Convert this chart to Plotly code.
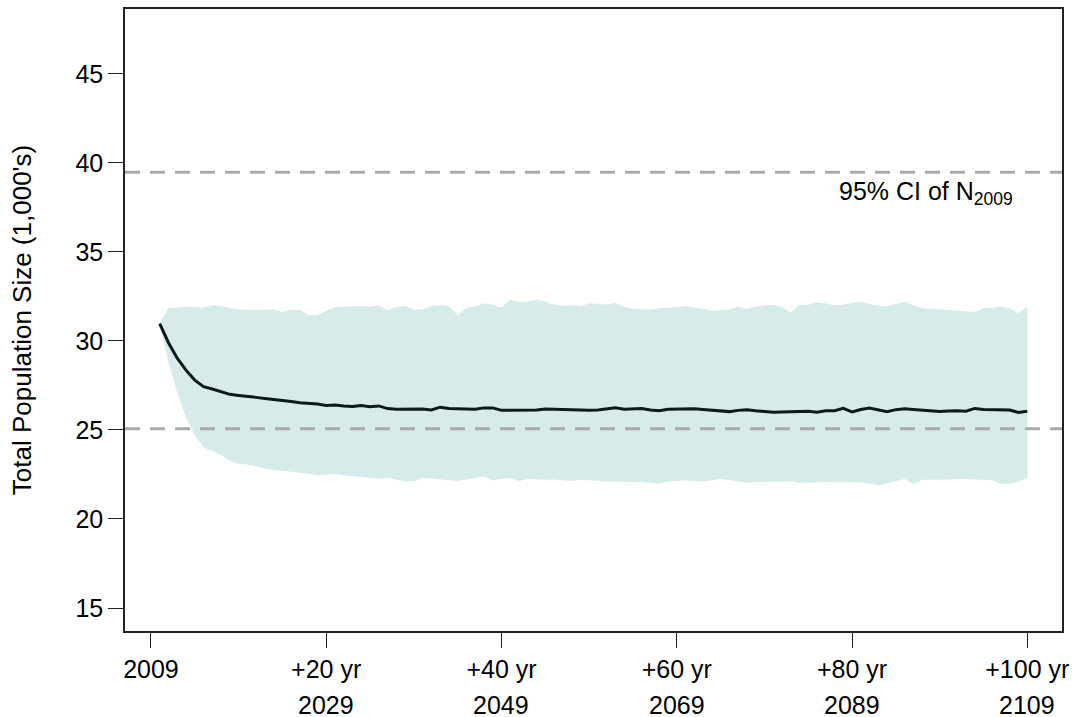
import plotly.graph_objects as go

# projected total population (1,000's), one value per year
years = list(range(2010, 2110))

mean_n = [30.97, 29.9, 29.03, 28.36, 27.8, 27.43, 27.3, 27.16, 27.0, 26.94,
          26.9, 26.83, 26.77, 26.72, 26.68, 26.6, 26.53, 26.51, 26.46, 26.38,
          26.4, 26.35, 26.32, 26.37, 26.3, 26.35, 26.2, 26.16, 26.16, 26.18,
          26.18, 26.12, 26.28, 26.2, 26.2, 26.2, 26.16, 26.24, 26.24, 26.1,
          26.1, 26.12, 26.12, 26.12, 26.18, 26.16, 26.16, 26.16, 26.14, 26.1,
          26.12, 26.16, 26.24, 26.16, 26.18, 26.2, 26.12, 26.08, 26.16, 26.18,
          26.21, 26.19, 26.15, 26.12, 26.05, 26.03, 26.1, 26.14, 26.08, 26.03,
          26.0, 26.01, 26.01, 26.03, 26.05, 26.0, 26.08, 26.08, 26.21, 26.01,
          26.15, 26.23, 26.15, 26.03, 26.14, 26.19, 26.15, 26.12, 26.06, 26.03,
          26.06, 26.08, 26.05, 26.21, 26.15, 26.14, 26.14, 26.12, 25.98, 26.05]

upper_n = [30.97, 31.85, 31.88, 31.92, 31.9, 31.88, 32.0, 31.96, 31.85, 31.77,
           31.75, 31.75, 31.75, 31.77, 31.62, 31.75, 31.74, 31.44, 31.44, 31.7,
           31.9, 31.92, 31.94, 31.96, 31.92, 32.0, 31.72, 31.9, 31.96, 31.75,
           31.77, 31.96, 32.0, 31.96, 31.44, 31.85, 31.92, 32.12, 32.05, 31.86,
           32.33, 32.2, 32.2, 32.33, 32.2, 32.05, 31.96, 32.0, 31.96, 32.1,
           32.09, 32.05, 32.14, 31.92, 31.81, 31.77, 31.77, 31.83, 31.88, 31.88,
           31.96, 31.88, 31.81, 31.68, 31.74, 31.77, 31.92, 31.81, 31.92, 32.0,
           32.03, 31.9, 31.58, 32.03, 32.03, 32.18, 32.1, 32.0, 32.03, 32.14,
           32.2, 32.09, 31.96, 31.96, 32.1, 32.2, 32.0, 31.83, 31.81, 31.77,
           31.74, 31.66, 31.62, 31.62, 31.85, 31.86, 31.92, 31.83, 31.55, 31.92]

lower_n = [30.97, 28.8, 27.1, 25.7, 24.7, 24.03, 23.8, 23.6, 23.25, 23.1,
           23.06, 22.95, 22.82, 22.74, 22.69, 22.65, 22.61, 22.54, 22.45, 22.5,
           22.54, 22.45, 22.39, 22.35, 22.31, 22.26, 22.31, 22.2, 22.1, 22.12,
           22.31, 22.28, 22.24, 22.17, 22.13, 22.2, 22.3, 22.39, 22.17, 22.24,
           22.3, 22.13, 22.24, 22.2, 22.2, 22.22, 22.17, 22.13, 22.2, 22.17,
           22.15, 22.1, 22.1, 22.08, 22.08, 22.08, 22.04, 21.98, 22.1, 22.15,
           22.17, 22.13, 22.1, 22.17, 22.24, 22.19, 22.13, 22.04, 22.08, 22.11,
           22.11, 22.1, 22.1, 22.02, 22.04, 22.06, 22.08, 22.08, 22.08, 22.06,
           22.06, 21.98, 21.89, 22.02, 22.13, 22.24, 21.95, 22.21, 22.21, 22.21,
           22.21, 22.22, 22.24, 22.22, 22.21, 22.17, 21.98, 21.98, 22.08, 22.32]

# 95% CI of the 2009 estimate
ci_2009 = [25.07, 39.47]

tick_years = [2009, 2029, 2049, 2069, 2089, 2109]
tick_top = ["2009", "+20 yr", "+40 yr", "+60 yr", "+80 yr", "+100 yr"]
tick_bottom = ["", "2029", "2049", "2069", "2089", "2109"]
y_ticks = [15, 20, 25, 30, 35, 40, 45]

font = "Liberation Sans, Arial, sans-serif"
ink = "#222222"

fig = go.Figure()

# ribbon
fig.add_trace(go.Scatter(
    x=years + years[::-1],
    y=upper_n + lower_n[::-1],
    fill="toself", fillcolor="#d7ebea",
    line=dict(width=0), mode="lines", hoverinfo="skip", showlegend=False))

# mean trajectory
fig.add_trace(go.Scatter(
    x=years, y=mean_n, mode="lines",
    line=dict(color="#0b1a1a", width=3), showlegend=False))

for v in ci_2009:
    fig.add_shape(type="line", xref="paper", x0=0, x1=1, yref="y", y0=v, y1=v,
                  line=dict(color="#aaaaaa", width=3, dash="15px,10px"))

fig.add_annotation(x=2097.4, y=38.3, text="95% CI of N<sub>2009</sub>",
                   showarrow=False, xanchor="center", yanchor="middle",
                   font=dict(family=font, size=25, color="#000000"))

for yr, lab in zip(tick_years, tick_bottom):
    if lab:
        fig.add_annotation(x=yr, y=0, xref="x", yref="paper", text=lab,
                           showarrow=False, yanchor="middle", yshift=-74,
                           font=dict(family=font, size=25, color="#000000"))

fig.update_layout(
    width=1076, height=717, autosize=False,
    margin=dict(l=125, r=10, t=7, b=86),
    plot_bgcolor="white", paper_bgcolor="white",
    font=dict(family=font, size=25, color="#000000"),
    xaxis=dict(range=[2006.04, 2112.96], tickvals=tick_years, ticktext=tick_top,
               ticks="outside", ticklen=15, tickwidth=1, tickcolor=ink,
               showline=True, mirror=True, linecolor=ink, linewidth=1.5,
               showgrid=False, zeroline=False),
    yaxis=dict(range=[13.71, 48.64], tickvals=y_ticks,
               ticks="outside", ticklen=15, tickwidth=1, tickcolor=ink,
               showline=True, mirror=True, linecolor=ink, linewidth=1.5,
               showgrid=False, zeroline=False,
               title=dict(text="Total Population Size (1,000's)", standoff=36,
                          font=dict(size=26))),
)

fig.write_html("out.html", config={"displayModeBar": False},
               post_script="document.body.style.margin='0';")
